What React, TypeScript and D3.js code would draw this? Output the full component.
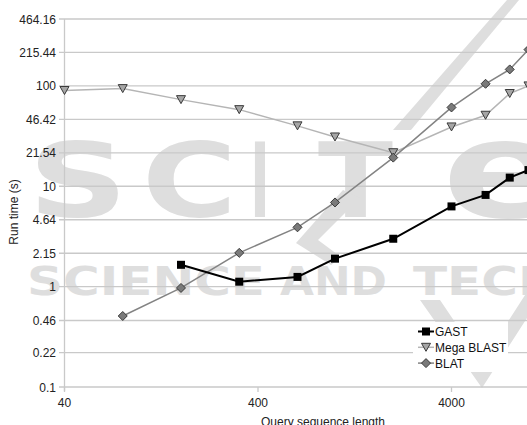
import React, { FC, useEffect, useRef } from "react"
import { line, scaleLog, select } from "d3"

// query sequence lengths
const lengths = [40, 80, 160, 320, 640, 1000, 2000, 4000, 6000, 8000, 10000]
// run time (s), null where a series has no point
const gast = [null, null, 1.65, 1.12, 1.25, 1.9, 3.0, 6.3, 8.2, 12.2, 14.5]
const megaBlast = [90, 94, 73, 58, 40, 31, 21.6, 39, 51, 84, 100]
const blat = [null, 0.51, 0.97, 2.17, 3.9, 6.9, 19.3, 61, 105, 146, 230]

const yTicks = [0.1, 0.22, 0.46, 1, 2.15, 4.64, 10, 21.54, 46.42, 100, 215.44, 464.16]
const xTicks = [40, 400, 4000]
const seriesNames = ["GAST", "Mega BLAST", "BLAT"]

type P = { x: number; y: number }

const App: FC = () => {
  const ref = useRef<SVGSVGElement>(null)

  useEffect(() => {
    const el = ref.current
    if (!el) return
    const svg = select(el)
    svg.selectAll("*").remove()

    const width = 527
    const height = 425
    const font = "'Liberation Sans', Arial, sans-serif"

    // scales
    const x = scaleLog().domain([40, 40000]).range([64.5, 64.5 + 3 * 193.5])
    const y = scaleLog().domain([0.1, 464.16]).range([387, 19])

    svg.append("rect").attr("width", width).attr("height", height).attr("fill", "#fff")

    // watermark
    const wm = svg.append("g").attr("fill", "#dedede").style("font-family", "'DejaVu Sans', sans-serif").style("font-weight", "bold")
    const big = [
      { t: "S", x: 28, w: 100, s: 103 },
      { t: "C", x: 142, w: 95, s: 103 },
      { t: "I", x: 250, w: 20, s: 103 },
      { t: "T", x: 318, w: 75, s: 103 },
      { t: "e", x: 442, w: 125, s: 136 },
    ]
    big.forEach((l) => {
      wm.append("text")
        .text(l.t)
        .attr("x", l.x)
        .attr("y", 217)
        .attr("font-size", l.s)
        .attr("textLength", l.w)
        .attr("lengthAdjust", "spacingAndGlyphs")
    })
    const small = [
      { t: "SCIENCE", x: 27, w: 238 },
      { t: "AND", x: 280, w: 107 },
      { t: "TECHNOLOGY", x: 413, w: 380 },
    ]
    small.forEach((l) => {
      wm.append("text")
        .text(l.t)
        .attr("x", l.x)
        .attr("y", 295)
        .attr("font-size", 39)
        .attr("textLength", l.w)
        .attr("lengthAdjust", "spacingAndGlyphs")
    })
    wm.append("polygon").attr("points", "507,0 519,0 411,130 393,130")
    wm.append("polygon").attr("points", "343,190 360,198 318,240 341,257 331,265 296,243")
    wm.append("polygon").attr("points", "420,300 440,300 482,362 527,292 527,318 482,388")

    // grid
    const grid = svg.append("g")
    grid.selectAll("line")
      .data(yTicks)
      .join("line")
      .attr("x1", 59)
      .attr("x2", width)
      .attr("y1", (d) => y(d))
      .attr("y2", (d) => y(d))
      .attr("stroke", "#c9c9c9")
      .attr("stroke-width", 1.3)

    // axes
    svg.append("line")
      .attr("x1", x(40)).attr("x2", x(40))
      .attr("y1", y(464.16)).attr("y2", 391)
      .attr("stroke", "#c9c9c9").attr("stroke-width", 1.3)
    svg.selectAll(".xtick")
      .data(xTicks)
      .join("line")
      .attr("x1", (d) => x(d)).attr("x2", (d) => x(d))
      .attr("y1", 387).attr("y2", 392)
      .attr("stroke", "#c9c9c9").attr("stroke-width", 1.3)

    svg.append("g")
      .selectAll("text")
      .data(yTicks)
      .join("text")
      .text((d) => String(d))
      .attr("x", 56)
      .attr("y", (d) => y(d) + 4.5)
      .attr("text-anchor", "end")
      .attr("font-size", 12)
      .attr("font-family", font)
      .attr("fill", "#222")

    svg.append("g")
      .selectAll("text")
      .data(xTicks)
      .join("text")
      .text((d) => String(d))
      .attr("x", (d) => x(d))
      .attr("y", 407)
      .attr("text-anchor", "middle")
      .attr("font-size", 12)
      .attr("font-family", font)
      .attr("fill", "#222")

    svg.append("text")
      .text("Run time (s)")
      .attr("transform", "translate(17.5,212) rotate(-90)")
      .attr("text-anchor", "middle")
      .attr("font-size", 12)
      .attr("font-family", font)
      .attr("fill", "#222")

    svg.append("text")
      .text("Query sequence length")
      .attr("x", 323)
      .attr("y", 426)
      .attr("text-anchor", "middle")
      .attr("font-size", 12)
      .attr("font-family", font)
      .attr("fill", "#222")

    // series
    const toPts = (vals: (number | null)[]) =>
      lengths
        .map((l, i) => ({ x: l, y: vals[i] }))
        .filter((p) => p.y !== null) as P[]

    const path = line<P>().x((d) => x(d.x)).y((d) => y(d.y))

    const square = (g: any, cx: number, cy: number) =>
      g.append("rect").attr("x", cx - 4).attr("y", cy - 4).attr("width", 8).attr("height", 8).attr("fill", "#000")
    const tri = (g: any, cx: number, cy: number) =>
      g.append("path")
        .attr("d", `M${cx - 4.5},${cy - 4}L${cx + 4.5},${cy - 4}L${cx},${cy + 4}Z`)
        .attr("fill", "#a6a6a6").attr("stroke", "#3a3a3a").attr("stroke-width", 1)
    const diamond = (g: any, cx: number, cy: number) =>
      g.append("path")
        .attr("d", `M${cx},${cy - 4.5}L${cx + 4.5},${cy}L${cx},${cy + 4.5}L${cx - 4.5},${cy}Z`)
        .attr("fill", "#7a7a7a").attr("stroke", "#3a3a3a").attr("stroke-width", 1)

    const series = [
      { name: seriesNames[1], pts: toPts(megaBlast), color: "#b5b5b5", w: 1.5, mark: tri },
      { name: seriesNames[2], pts: toPts(blat), color: "#838383", w: 1.5, mark: diamond },
      { name: seriesNames[0], pts: toPts(gast), color: "#000", w: 2, mark: square },
    ]

    const plot = svg.append("g")
    series.forEach((s) => {
      plot.append("path")
        .attr("d", path(s.pts))
        .attr("fill", "none")
        .attr("stroke", s.color)
        .attr("stroke-width", s.w)
      s.pts.forEach((p) => s.mark(plot, x(p.x), y(p.y)))
    })

    // legend
    const legend = svg.append("g")
    legend.append("rect").attr("x", 413).attr("y", 322).attr("width", 95).attr("height", 50).attr("fill", "#fff")
    const order = [series[2], series[0], series[1]]
    order.forEach((s, i) => {
      const cy = 331.5 + i * 15.8
      legend.append("line")
        .attr("x1", 418).attr("x2", 434)
        .attr("y1", cy).attr("y2", cy)
        .attr("stroke", s.color).attr("stroke-width", s.w)
      s.mark(legend, 426, cy)
      legend.append("text")
        .text(s.name)
        .attr("x", 435)
        .attr("y", cy + 4.5)
        .attr("font-size", 12)
        .attr("font-family", font)
        .attr("fill", "#111")
    })
  }, [])

  return (
    <svg
      ref={ref}
      width={527}
      height={425}
      style={{ position: "absolute", left: 0, top: 0 }}
    />
  )
}

export default App
